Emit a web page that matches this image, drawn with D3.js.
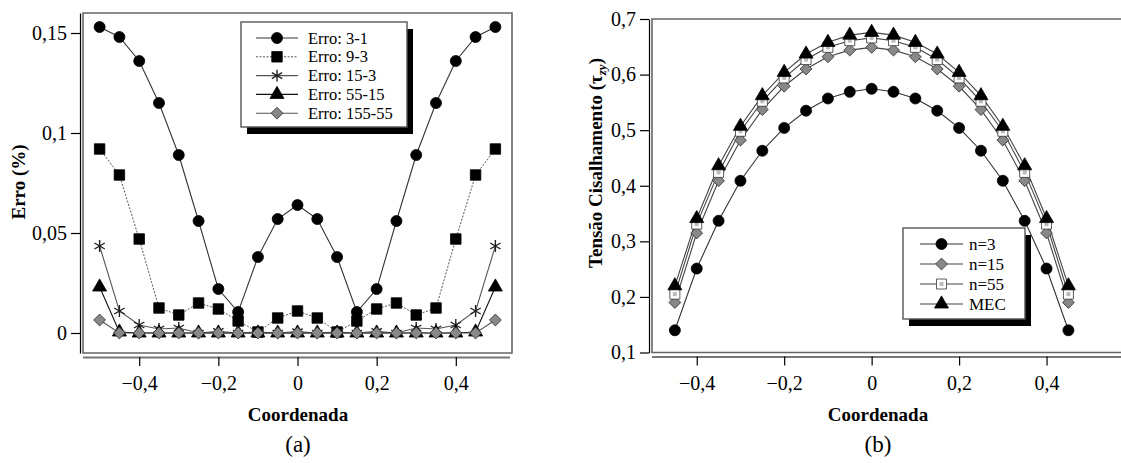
<!DOCTYPE html>
<html><head><meta charset="utf-8">
<script src="https://cdn.jsdelivr.net/npm/d3@7"></script>
<style>
body{margin:0;background:#fff;}
text{font-family:"Liberation Serif","Times New Roman",serif;fill:#000;}
</style></head>
<body><svg id="c" width="1121" height="463"></svg>
<script>
// ---------- DATA ----------
const coordLeft = [-0.5,-0.45,-0.4,-0.35,-0.3,-0.25,-0.2,-0.15,-0.1,-0.05,0,0.05,0.1,0.15,0.2,0.25,0.3,0.35,0.4,0.45,0.5];
const erro3_1   = [0.153,0.148,0.136,0.115,0.089,0.056,0.022,0.0105,0.038,0.057,0.064,0.057,0.038,0.0105,0.022,0.056,0.089,0.115,0.136,0.148,0.153];
const erro9_3   = [0.092,0.079,0.047,0.0125,0.009,0.015,0.012,0.006,0.0005,0.0075,0.011,0.0075,0.0005,0.006,0.012,0.015,0.009,0.0125,0.047,0.079,0.092];
const erro15_3  = [0.0435,0.011,0.004,0.002,0.0025,0,0.0008,0,0.0005,0,0.0007,0,0.0005,0,0.0008,0,0.0025,0.002,0.004,0.011,0.0435];
const erro55_15 = [0.023,0.0005,0,0,0,0,0,0,0,0,0,0,0,0,0,0,0,0,0,0.0005,0.023];
const erro155_55= [0.0065,0,0,0,0,0,0,0,0,0,0,0,0,0,0,0,0,0,0,0,0.0065];
const leftLabels = ["Erro: 3-1","Erro: 9-3","Erro: 15-3","Erro: 55-15","Erro: 155-55"];

const coordRight = [-0.45,-0.4,-0.35,-0.3,-0.25,-0.2,-0.15,-0.1,-0.05,0,0.05,0.1,0.15,0.2,0.25,0.3,0.35,0.4,0.45];
const n3   = [0.140,0.251,0.337,0.409,0.463,0.504,0.535,0.557,0.569,0.5745,0.569,0.557,0.535,0.504,0.463,0.409,0.337,0.251,0.140];
const n15  = [0.190,0.315,0.409,0.482,0.537,0.579,0.610,0.632,0.644,0.649,0.644,0.632,0.610,0.579,0.537,0.482,0.409,0.315,0.190];
const n55  = [0.205,0.331,0.424,0.498,0.552,0.594,0.627,0.649,0.661,0.666,0.661,0.649,0.627,0.594,0.552,0.498,0.424,0.331,0.205];
const mec  = [0.220,0.341,0.436,0.507,0.562,0.604,0.637,0.658,0.671,0.676,0.671,0.658,0.637,0.604,0.562,0.507,0.436,0.341,0.220];
const rightLabels = ["n=3","n=15","n=55","MEC"];

const xTickLabels = [-0.4,-0.2,0,0.2,0.4];
const xMinorTicks = [-0.5,-0.45,-0.4,-0.35,-0.3,-0.25,-0.2,-0.15,-0.1,-0.05,0,0.05,0.1,0.15,0.2,0.25,0.3,0.35,0.4,0.45,0.5,0.55];
const yLeftTicks = [0,0.05,0.1,0.15];
const yLeftMinor = [-0.01,0,0.01,0.02,0.03,0.04,0.05,0.06,0.07,0.08,0.09,0.1,0.11,0.12,0.13,0.14,0.15,0.16];
const yRightTicks = [0.1,0.2,0.3,0.4,0.5,0.6,0.7];
const yRightMinor = [0.15,0.25,0.35,0.45,0.55,0.65];

// ---------- HELPERS ----------
const svg = d3.select("#c");
const fmt = d => d === 0 ? "0" : String(+d.toFixed(3)).replace(".", ",").replace("-", "\u2212");

const sym = {
  circle: d3.symbol().type(d3.symbolCircle).size(95),
  square: d3.symbol().type(d3.symbolSquare).size(110),
  sqSmall: d3.symbol().type(d3.symbolSquare).size(100),
  star: d3.symbol().type(d3.symbolAsterisk).size(100),
  tri: d3.symbol().type(d3.symbolTriangle).size(85),
  diamond: d3.symbol().type(d3.symbolSquare).size(70)
};
function marker(g, kind, x, y, style){
  const p = g.append("path").attr("d", sym[kind]()).attr("transform", `translate(${x},${y})` + (kind==="diamond"?" rotate(45)":""));
  p.attr("fill", style.fill).attr("stroke", style.stroke).attr("stroke-width", style.sw||0.8);
  if (kind==="sqSmall"){
    g.append("rect").attr("x",x-2).attr("y",y-2).attr("width",4).attr("height",4).attr("fill","#bbb");
  }
  return p;
}

function panel(cfg){
  const g = svg.append("g");
  const x = d3.scaleLinear().domain(cfg.xDomain).range(cfg.xRange);
  const y = d3.scaleLinear().domain(cfg.yDomain).range(cfg.yRange);
  const [fl, fr] = cfg.frameX, [ft, fb] = [cfg.yRange[1], cfg.yRange[0]];

  // frame
  g.append("path").attr("d", `M${fr},${ft}H${fl}V${fb}H${fr}` + (cfg.closeRight?"Z":""))
    .attr("fill","none").attr("stroke","#666").attr("stroke-width",1.6);

  // y axis
  const yAx = g.append("g").attr("transform",`translate(${fl-3},0)`);
  yAx.call(d3.axisLeft(y).tickValues(cfg.yMinor).tickSize(6).tickFormat("").tickSizeOuter(0));
  yAx.call(d3.axisLeft(y).tickValues(cfg.yTicks).tickSize(9).tickPadding(4).tickFormat(fmt).tickSizeOuter(0));
  yAx.selectAll("path.domain").attr("stroke","#000").attr("stroke-width",1.2);
  yAx.selectAll("line").attr("stroke","#000").attr("stroke-width",1.2);
  yAx.selectAll("text").attr("font-size",20);

  // x axis
  const xAx = g.append("g").attr("transform",`translate(0,${fb+4})`);
  xAx.call(d3.axisBottom(x).tickValues(cfg.xMinor).tickSize(5).tickFormat("").tickSizeOuter(0));
  xAx.call(d3.axisBottom(x).tickValues(xTickLabels).tickSize(9).tickPadding(10).tickFormat(fmt).tickSizeOuter(0));
  xAx.selectAll("path.domain").attr("stroke","#777").attr("stroke-width",2.2)
     .attr("d", `M${fl},0.5H${cfg.xAxisEnd}`);
  xAx.selectAll("line").attr("stroke","#000").attr("stroke-width",1.2);
  xAx.selectAll("text").attr("font-size",20);

  // series
  cfg.series.forEach(s => {
    const pts = cfg.xs.map((xv,i)=>[x(xv), y(s.values[i])]);
    g.append("path").attr("d", d3.line()(pts)).attr("fill","none")
      .attr("stroke", s.line).attr("stroke-width", s.lw||1.1)
      .attr("stroke-dasharray", s.dash||null);
  });
  cfg.series.forEach(s => {
    const mg = g.append("g");
    cfg.xs.forEach((xv,i)=> marker(mg, s.kind, x(xv), y(s.values[i]), s));
  });

  // legend
  const L = cfg.legend;
  g.append("rect").attr("x",L.x+6).attr("y",L.y+7).attr("width",L.w).attr("height",L.h).attr("fill","#000");
  g.append("rect").attr("x",L.x).attr("y",L.y).attr("width",L.w).attr("height",L.h)
    .attr("fill","#fff").attr("stroke","#555").attr("stroke-width",1.4);
  cfg.series.forEach((s,i)=>{
    const yy = L.y0 + i*L.dy;
    g.append("line").attr("x1",L.l1).attr("x2",L.l2).attr("y1",yy).attr("y2",yy)
      .attr("stroke", s.line).attr("stroke-width", s.lw||1.1).attr("stroke-dasharray", s.dash||null);
    marker(g, s.kind, (L.l1+L.l2)/2, yy, s);
    g.append("text").attr("x",L.tx).attr("y",yy).attr("dy","0.34em").attr("font-size",L.fs).text(cfg.labels[i]);
  });

  // titles
  g.append("text").attr("x",cfg.xTitle[0]).attr("y",421).attr("text-anchor","middle")
    .attr("font-weight","bold").attr("font-size",19).text("Coordenada");
  g.append("text").attr("x",cfg.xTitle[0]).attr("y",452).attr("text-anchor","middle")
    .attr("font-size",23).text(cfg.tag);
  return g;
}

// ---------- LEFT PANEL ----------
panel({
  xDomain:[-0.542,0.542], xRange:[83,512], frameX:[83,512], closeRight:true, xAxisEnd:510,
  yDomain:[-0.01,0.16], yRange:[353,13],
  yTicks:yLeftTicks, yMinor:yLeftMinor, xMinor:xMinorTicks.filter(v=>v<=0.5),
  xs:coordLeft,
  series:[
    {values:erro3_1, kind:"circle", fill:"#000", stroke:"#000", line:"#333"},
    {values:erro9_3, kind:"square", fill:"#000", stroke:"#000", line:"#444", dash:"2,1.5", lw:0.9},
    {values:erro15_3, kind:"star", fill:"none", stroke:"#222", sw:1.4, line:"#555"},
    {values:erro55_15, kind:"tri", fill:"#000", stroke:"#000", line:"#111"},
    {values:erro155_55, kind:"diamond", fill:"#888", stroke:"#333", line:"#555"}
  ],
  labels:leftLabels,
  legend:{x:241,y:22,w:166,h:105,y0:38,dy:18.8,l1:256,l2:298,tx:308,fs:16.5},
  xTitle:[298], tag:"(a)"
});
svg.append("text").attr("transform","translate(25,182) rotate(-90)").attr("text-anchor","middle")
  .attr("font-weight","bold").attr("font-size",19).text("Erro (%)");

// ---------- RIGHT PANEL ----------
panel({
  xDomain:[-0.5,0.6], xRange:[653,1134], frameX:[652,1140], closeRight:false, xAxisEnd:1125,
  yDomain:[0.1,0.7], yRange:[352.5,19],
  yTicks:yRightTicks, yMinor:yRightMinor, xMinor:xMinorTicks,
  xs:coordRight,
  series:[
    {values:n3, kind:"circle", fill:"#000", stroke:"#000", line:"#333"},
    {values:n15, kind:"diamond", fill:"#888", stroke:"#333", line:"#444"},
    {values:n55, kind:"sqSmall", fill:"#fff", stroke:"#333", line:"#444"},
    {values:mec, kind:"tri", fill:"#000", stroke:"#000", line:"#444"}
  ],
  labels:rightLabels,
  legend:{x:903,y:228,w:122,h:91,y0:244,dy:20,l1:920,l2:963,tx:969,fs:17},
  xTitle:[878], tag:"(b)"
});
const tt = svg.append("text").attr("transform","translate(602,163) rotate(-90)").attr("text-anchor","middle")
  .attr("font-weight","bold").attr("font-size",19);
tt.append("tspan").text("Tensão Cisalhamento (\u03C4");
tt.append("tspan").attr("font-size",13).attr("font-style","italic").attr("dy",4).text("zy");
tt.append("tspan").attr("dy",-4).text(")");
</script></body></html>
